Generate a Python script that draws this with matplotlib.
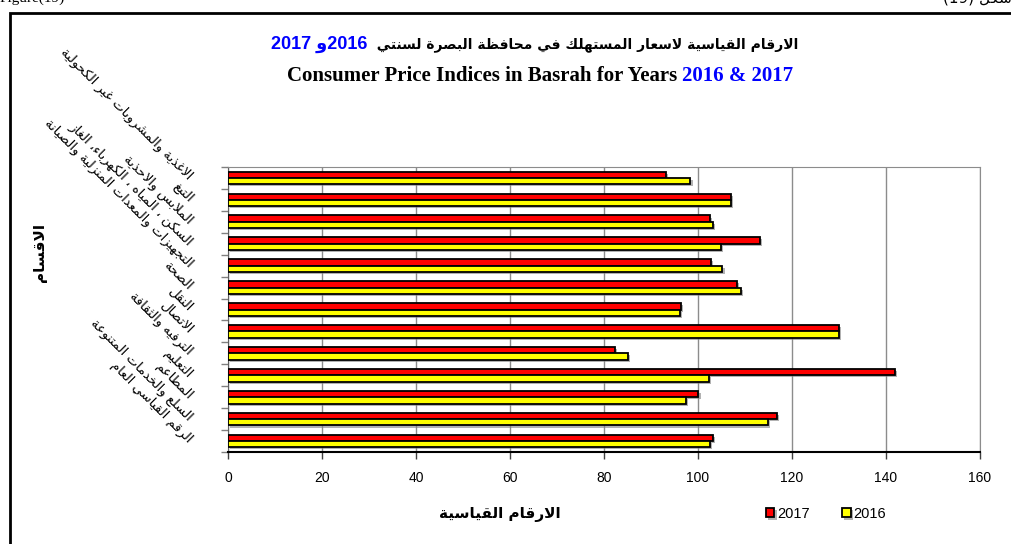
import matplotlib
matplotlib.use('Agg')
import matplotlib.pyplot as plt
import matplotlib.patheffects as pe
from matplotlib.patches import Rectangle
from matplotlib.offsetbox import TextArea, HPacker, AnchoredOffsetbox

# Data
categories = ['الاغذية والمشروبات غير الكحولية', 'التبغ', 'الملابس والاحذية',
              'السكن ، المياه ، الكهرباء، الغاز', 'التجهيزات والمعدات المنزلية والصيانة',
              'الصحة', 'النقل', 'الاتصال', 'الترفيه والثقافة', 'التعليم', 'المطاعم',
              'السلع والخدمات المتنوعة', 'الرقم القياسي العام']
vals_2017 = [93.1, 107.1, 102.6, 113.2, 102.7, 108.3, 96.3, 130.0, 82.4, 141.9, 100.1, 116.8, 103.2]
vals_2016 = [98.4, 107.1, 103.2, 104.9, 105.2, 109.2, 96.1, 130.0, 85.0, 102.3, 97.5, 114.8, 102.6]
xticks = [0, 20, 40, 60, 80, 100, 120, 140, 160]

# minimal arabic shaping (no reshaper lib available)
_shapes = [('ء', 0xFE80, 1), ('آ', 0xFE81, 2), ('أ', 0xFE83, 2), ('ؤ', 0xFE85, 2),
           ('إ', 0xFE87, 2), ('ئ', 0xFE89, 4), ('ا', 0xFE8D, 2), ('ب', 0xFE8F, 4),
           ('ة', 0xFE93, 2), ('ت', 0xFE95, 4), ('ث', 0xFE99, 4), ('ج', 0xFE9D, 4),
           ('ح', 0xFEA1, 4), ('خ', 0xFEA5, 4), ('د', 0xFEA9, 2), ('ذ', 0xFEAB, 2),
           ('ر', 0xFEAD, 2), ('ز', 0xFEAF, 2), ('س', 0xFEB1, 4), ('ش', 0xFEB5, 4),
           ('ص', 0xFEB9, 4), ('ض', 0xFEBD, 4), ('ط', 0xFEC1, 4), ('ظ', 0xFEC5, 4),
           ('ع', 0xFEC9, 4), ('غ', 0xFECD, 4), ('ف', 0xFED1, 4), ('ق', 0xFED5, 4),
           ('ك', 0xFED9, 4), ('ل', 0xFEDD, 4), ('م', 0xFEE1, 4), ('ن', 0xFEE5, 4),
           ('ه', 0xFEE9, 4), ('و', 0xFEED, 2), ('ى', 0xFEEF, 2), ('ي', 0xFEF1, 4)]
FORMS = {c: (b, k) for c, b, k in _shapes}
LAM_ALEF = {'آ': 0xFEF5, 'أ': 0xFEF7, 'إ': 0xFEF9, 'ا': 0xFEFB}


def ar(s):
    kind = lambda c: FORMS[c][1] if c in FORMS else 0
    out = []
    i, n = 0, len(s)
    while i < n:
        c = s[i]
        prev_j = i > 0 and kind(s[i - 1]) == 4
        if c == 'ل' and i + 1 < n and s[i + 1] in LAM_ALEF:
            out.append(chr(LAM_ALEF[s[i + 1]] + (1 if prev_j else 0)))
            i += 2
            continue
        k = kind(c)
        if k == 0:
            out.append(c)
        else:
            nxt = i + 1 < n and kind(s[i + 1]) in (2, 4)
            if k == 4:
                idx = (3 if nxt else 1) if prev_j else (2 if nxt else 0)
            elif k == 2:
                idx = 1 if prev_j else 0
            else:
                idx = 0
            out.append(chr(FORMS[c][0] + idx))
        i += 1
    return ''.join(reversed(out))


W, H = 1012, 544
fig = plt.figure(figsize=(W / 100, H / 100), dpi=100)
ax = fig.add_axes([228 / W, 1 - 452 / H, (980 - 228) / W, (452 - 167) / H])

n = len(categories)
ypos = list(range(n))
bh = 0.29
shadow = [pe.SimplePatchShadow(offset=(1.5, -1.5), shadow_rgbFace='#808080', alpha=0.6), pe.Normal()]
b1 = ax.barh([y - bh / 2 for y in ypos], vals_2017, height=bh, color='#ff0000',
             edgecolor='black', lw=1.3, label='2017', zorder=3)
b2 = ax.barh([y + bh / 2 for y in ypos], vals_2016, height=bh, color='#ffff00',
             edgecolor='black', lw=1.3, label='2016', zorder=3)
for b in list(b1) + list(b2):
    b.set_path_effects(shadow)

ax.set_xlim(0, 160)
ax.set_ylim(n - 0.5, -0.5)
ax.set_xticks(xticks)
ax.set_xticklabels([str(v) for v in xticks], fontsize=10, family='Liberation Sans')
ax.tick_params(axis='x', length=5, width=1, color='#404040', pad=9)
ax.grid(axis='x', color='#8c8c8c', lw=1, zorder=0)

ax.set_yticks(ypos)
ax.set_yticklabels([ar(c) for c in categories], rotation=-45, rotation_mode='anchor',
                   ha='right', va='center', fontsize=9.5, family='DejaVu Sans')
ax.set_yticks([y + 0.5 for y in range(-1, n)], minor=True)
ax.tick_params(axis='y', which='major', length=0, pad=27)
ax.tick_params(axis='y', which='minor', length=5, width=1, color='#808080')

for s in ['top', 'right']:
    ax.spines[s].set_color('#8c8c8c')
ax.spines['left'].set_color('#606060')
ax.spines['bottom'].set_color('black')
ax.spines['bottom'].set_linewidth(1.5)

# titles
t1 = HPacker(children=[TextArea('2017 ' + ar('و') + '2016', textprops=dict(color='#0000ff', fontsize=13, weight='bold', family=['Liberation Sans', 'DejaVu Sans'])),
                       TextArea('  ' + ar('الارقام القياسية لاسعار المستهلك في محافظة البصرة لسنتي'), textprops=dict(color='black', fontsize=10, weight='bold', family='DejaVu Sans'))],
             align='baseline', pad=0, sep=0)
fig.add_artist(AnchoredOffsetbox(loc='center', child=t1, frameon=False, pad=0,
                                 bbox_to_anchor=(535 / W, 1 - 44 / H), bbox_transform=fig.transFigure))
t2 = HPacker(children=[TextArea('Consumer Price Indices in Basrah for Years ', textprops=dict(color='black', fontsize=15, weight='bold', family='Liberation Serif')),
                       TextArea('2016 & 2017', textprops=dict(color='#0000ff', fontsize=15, weight='bold', family='Liberation Serif'))],
             align='baseline', pad=0, sep=0)
fig.add_artist(AnchoredOffsetbox(loc='center', child=t2, frameon=False, pad=0,
                                 bbox_to_anchor=(540 / W, 1 - 76 / H), bbox_transform=fig.transFigure))

fig.text(500 / W, 1 - 514 / H, ar('الارقام القياسية'), ha='center', va='center',
         fontsize=11, weight='bold', family='DejaVu Sans')
fig.text(40 / W, 1 - 253 / H, ar('الاقسام'), ha='center', va='center', rotation=90,
         fontsize=11, weight='bold', family='DejaVu Sans')

fig.legend(handles=[b1, b2], labels=['2017', '2016'], loc='center', ncol=2,
           bbox_to_anchor=(826 / W, 1 - 514 / H), frameon=False,
           handlelength=0.6, handleheight=0.6, handletextpad=0.2, columnspacing=2.2,
           prop={'family': 'Liberation Sans', 'size': 10.5})

# page header bits, cut off at the top edge as in the scanned page
fig.text(0, 1 + 2 / H, 'Figure(19)', ha='left', va='center', fontsize=11, family='Liberation Serif')
fig.text(943 / W, 1 + 2 / H, '(19) ' + ar('شكل'), ha='left', va='center', fontsize=11, family='DejaVu Sans')

# outer frame
fig.add_artist(Rectangle((10 / W, -0.2), 1.2, 1.2 - 13 / H, transform=fig.transFigure,
                         fill=False, edgecolor='black', lw=2, clip_on=False))

fig.savefig('out.png', dpi=100)
